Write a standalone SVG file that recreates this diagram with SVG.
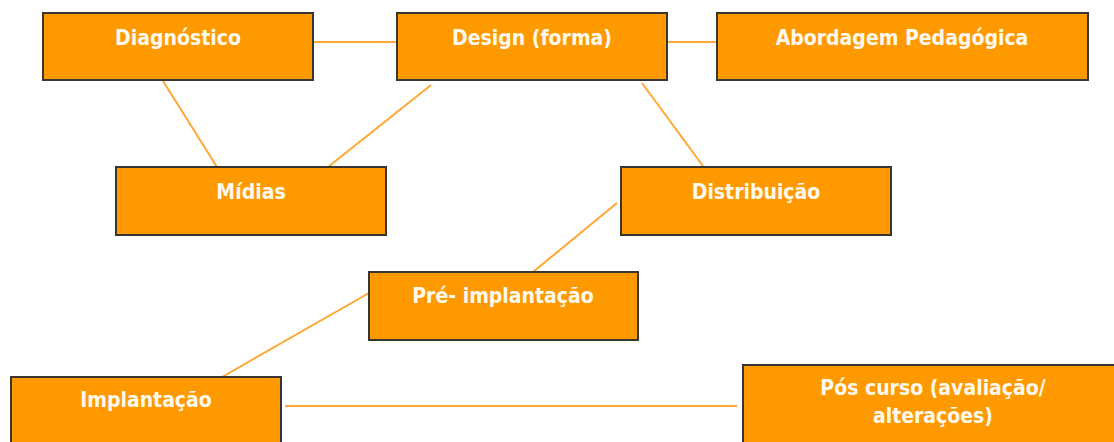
<svg xmlns="http://www.w3.org/2000/svg" width="1114" height="442" viewBox="0 0 1114 442">
  <style>
    .box { fill: #ff9900; stroke: #3a3530; stroke-width: 2; }
    .lbl { fill: #fffaf0; font-family: "DejaVu Sans Condensed", "DejaVu Sans", sans-serif; font-weight: bold; font-size: 21px; text-anchor: middle; }
    .link { stroke: #ffa733; stroke-width: 2; fill: none; }
  </style>
  <rect width="1114" height="442" fill="#ffffff"/>

  <!-- connectors -->
  <g id="connectors">
    <line class="link" x1="313" y1="42" x2="397" y2="42"/>
    <line class="link" x1="667" y1="42" x2="717" y2="42"/>
    <line class="link" x1="163" y1="81" x2="217" y2="167"/>
    <line class="link" x1="431" y1="85" x2="328" y2="167"/>
    <line class="link" x1="642" y1="83" x2="703" y2="166"/>
    <line class="link" x1="617" y1="203" x2="533" y2="272"/>
    <line class="link" x1="369" y1="293" x2="222" y2="377"/>
    <line class="link" x1="285" y1="406" x2="737" y2="406"/>
  </g>

  <g id="diagnostico">
    <rect class="box" x="43" y="13" width="270" height="67"/>
    <text class="lbl" x="178" y="45">Diagnóstico</text>
  </g>
  <g id="design">
    <rect class="box" x="397" y="13" width="270" height="67"/>
    <text class="lbl" x="532" y="45">Design (forma)</text>
  </g>
  <g id="abordagem">
    <rect class="box" x="717" y="13" width="371" height="67"/>
    <text class="lbl" x="902" y="45">Abordagem Pedagógica</text>
  </g>
  <g id="midias">
    <rect class="box" x="116" y="167" width="270" height="68"/>
    <text class="lbl" x="251" y="199">Mídias</text>
  </g>
  <g id="distribuicao">
    <rect class="box" x="621" y="167" width="270" height="68"/>
    <text class="lbl" x="756" y="199">Distribuição</text>
  </g>
  <g id="pre-implantacao">
    <rect class="box" x="369" y="272" width="269" height="68"/>
    <text class="lbl" x="503" y="303">Pré- implantação</text>
  </g>
  <g id="implantacao">
    <rect class="box" x="11" y="377" width="270" height="80"/>
    <text class="lbl" x="146" y="407">Implantação</text>
  </g>
  <g id="pos-curso">
    <rect class="box" x="743" y="365" width="380" height="90"/>
    <text class="lbl" x="933" y="395">Pós curso (avaliação/</text>
    <text class="lbl" x="933" y="423">alterações)</text>
  </g>
</svg>
